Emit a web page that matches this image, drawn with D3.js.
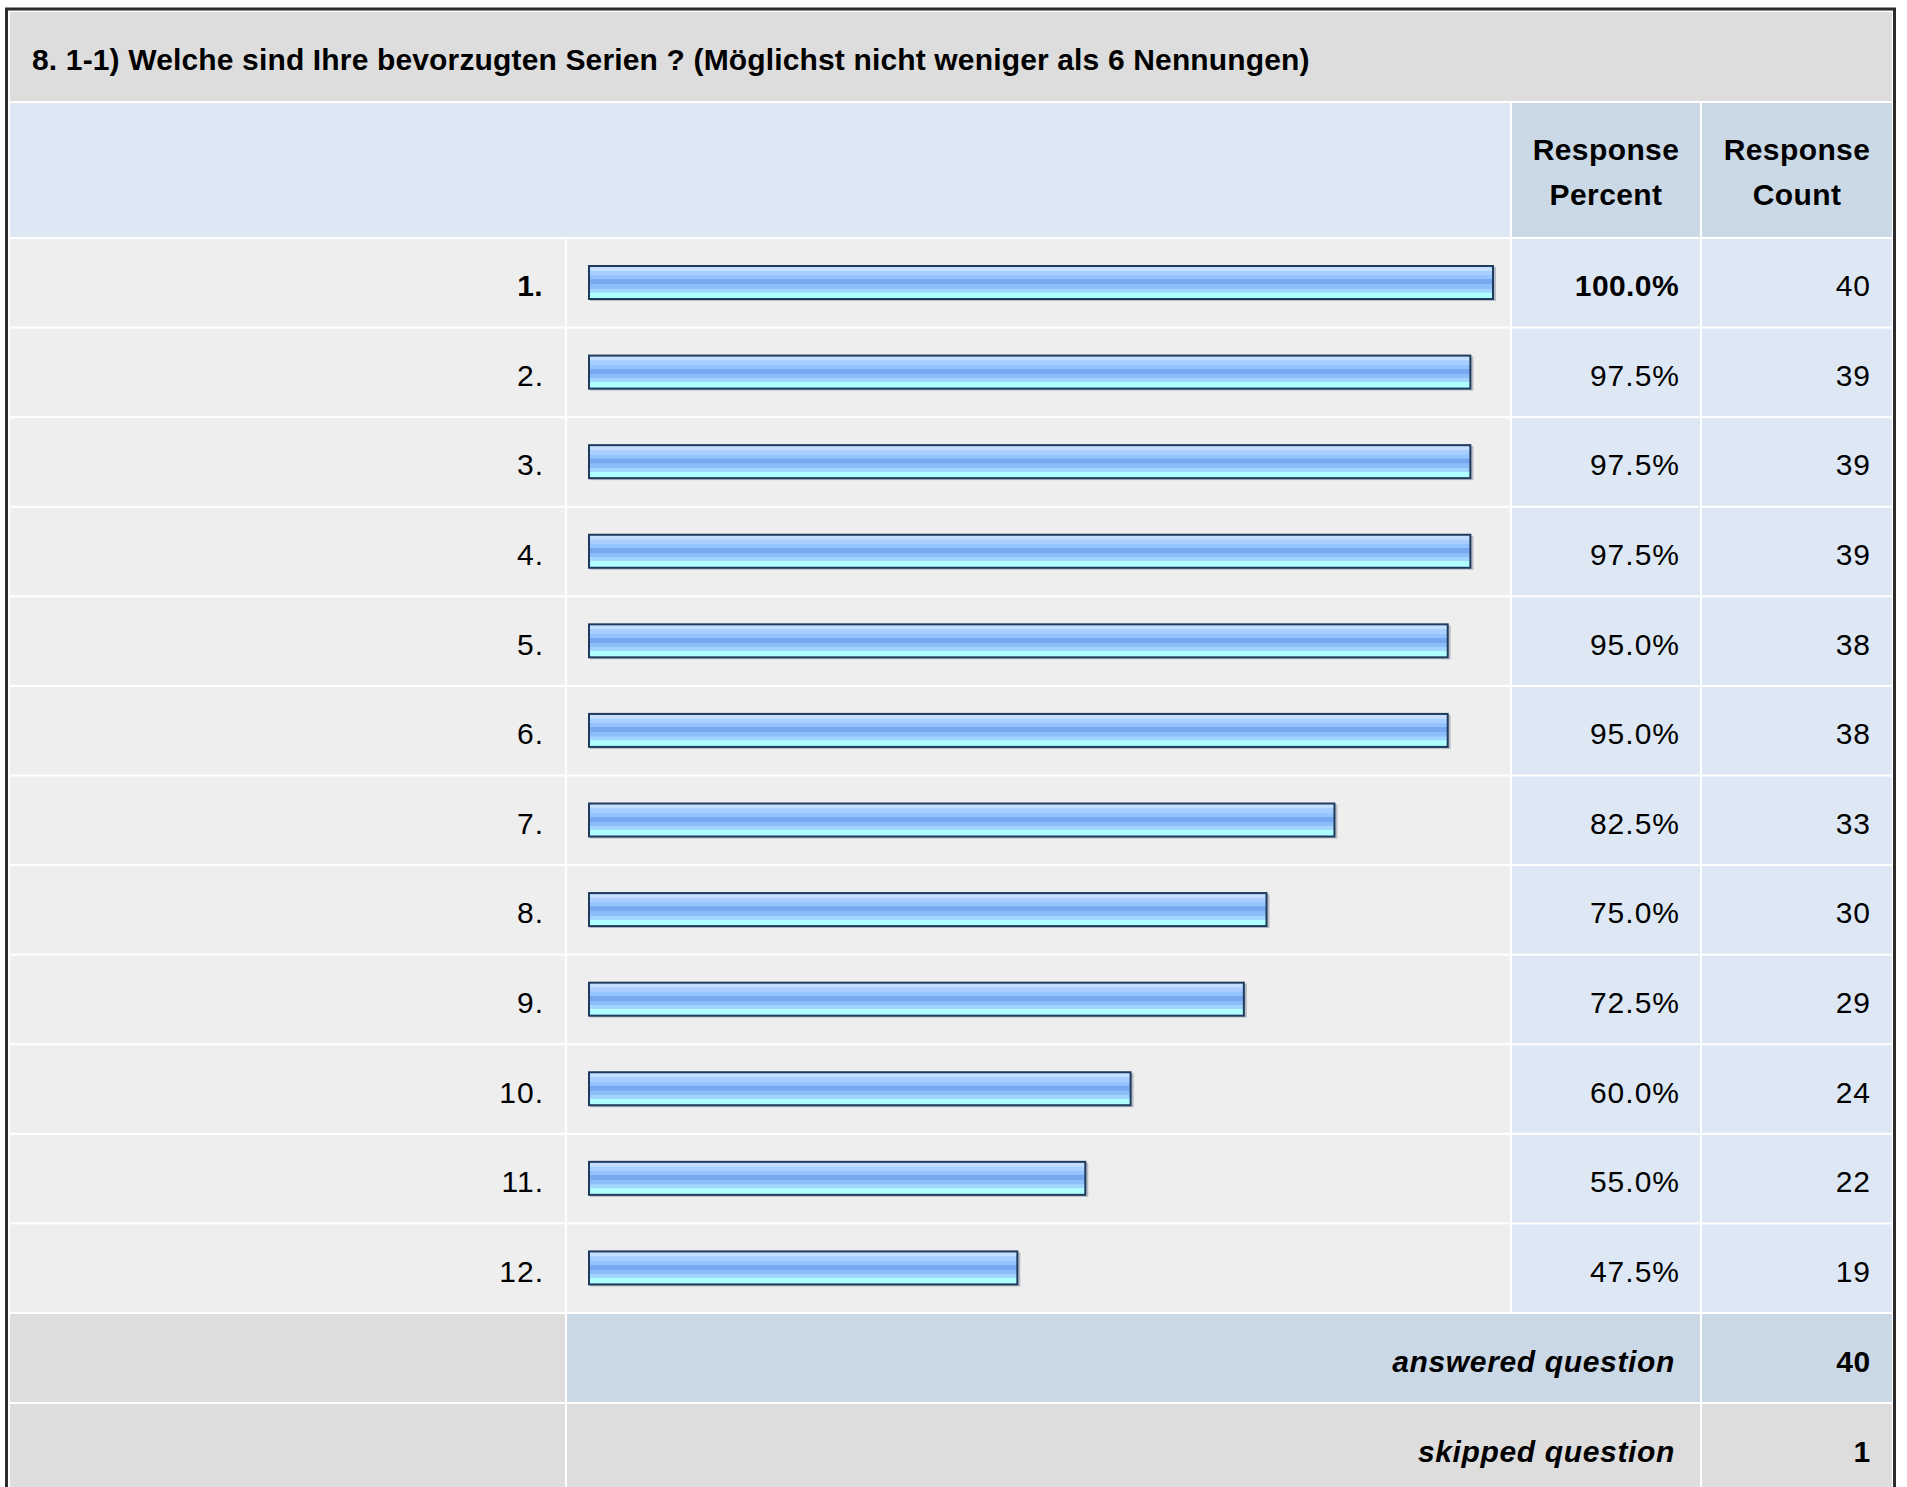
<!DOCTYPE html>
<html>
<head>
<meta charset="utf-8">
<script src="https://cdn.jsdelivr.net/npm/d3@7"></script>
<style>
  body { margin: 0; background: #fff; }
  text { font-family: "Liberation Sans", Arial, sans-serif; }
</style>
</head>
<body>
<div id="chart"></div>
<script>
// data
const title = "8. 1-1) Welche sind Ihre bevorzugten Serien ? (Möglichst nicht weniger als 6 Nennungen)";
const labels = ["1.", "2.", "3.", "4.", "5.", "6.", "7.", "8.", "9.", "10.", "11.", "12."];
const percents = [100.0, 97.5, 97.5, 97.5, 95.0, 95.0, 82.5, 75.0, 72.5, 60.0, 55.0, 47.5];
const counts = [40, 39, 39, 39, 38, 38, 33, 30, 29, 24, 22, 19];
const headerPercent = ["Response", "Percent"];
const headerCount = ["Response", "Count"];
const summaryLabels = ["answered question", "skipped question"];
const summaryValues = [40, 1];

const width = 1907,
  height = 1487;

const svg = d3
  .select("#chart")
  .append("svg")
  .attr("width", width)
  .attr("height", height);

// column edges
const colLabel = [10, 565],
  colBar = [567, 1510],
  colPct = [1512, 1700],
  colCnt = [1702, 1892];

const rows = labels.map((d, i) => ({ label: d, pct: percents[i], count: counts[i] }));
const maxPct = d3.max(percents);

const y = d3.scaleBand().domain(labels).range([238, 1313]);
const x = d3.scaleLinear().domain([0, 100]).range([588, 1494]);

// gradient for the bars
const grad = svg
  .append("defs")
  .append("linearGradient")
  .attr("id", "barGrad")
  .attr("x1", 0)
  .attr("y1", 0)
  .attr("x2", 0)
  .attr("y2", 1);
[
  [0, "#c4deff"],
  [0.14, "#c4deff"],
  [0.15, "#a8cfff"],
  [0.28, "#a8cfff"],
  [0.29, "#94c3fd"],
  [0.4, "#94c3fd"],
  [0.41, "#78a8f0"],
  [0.55, "#78a8f0"],
  [0.56, "#8cbdf9"],
  [0.68, "#8cbdf9"],
  [0.69, "#a2d6ff"],
  [0.8, "#a2d6ff"],
  [0.81, "#b0ffff"],
  [1, "#b0ffff"]
].forEach(([o, c]) => grad.append("stop").attr("offset", o).attr("stop-color", c));

// outer frame
svg
  .append("rect")
  .attr("x", 6.5)
  .attr("y", 9)
  .attr("width", 1888)
  .attr("height", 1500)
  .attr("fill", "#fff")
  .attr("stroke", "#2b2b2b")
  .attr("stroke-width", 3);

// title band
svg
  .append("rect")
  .attr("x", colLabel[0])
  .attr("y", 12)
  .attr("width", colCnt[1] - colLabel[0])
  .attr("height", 89)
  .attr("fill", "#dddddd");

svg
  .append("text")
  .attr("x", 32)
  .attr("y", 70)
  .attr("font-size", 30)
  .attr("font-weight", "bold")
  .attr("letter-spacing", 0.15)
  .attr("fill", "#000")
  .text(title);

// header row
const hy = 103,
  hh = 134;
svg
  .append("rect")
  .attr("x", colLabel[0])
  .attr("y", hy)
  .attr("width", colBar[1] - colLabel[0])
  .attr("height", hh)
  .attr("fill", "#dee8f5");
[
  [colPct, headerPercent],
  [colCnt, headerCount]
].forEach(([col, lines]) => {
  svg
    .append("rect")
    .attr("x", col[0])
    .attr("y", hy)
    .attr("width", col[1] - col[0])
    .attr("height", hh)
    .attr("fill", "#cbd8e6");
  svg
    .append("text")
    .attr("text-anchor", "middle")
    .attr("font-size", 30)
    .attr("font-weight", "bold")
    .attr("letter-spacing", 0.4)
    .selectAll("tspan")
    .data(lines)
    .join("tspan")
    .attr("x", (col[0] + col[1]) / 2)
    .attr("y", (d, i) => 160 + i * 45)
    .text((d) => d);
});

// data rows
const g = svg
  .selectAll("g.row")
  .data(rows)
  .join("g")
  .attr("class", "row")
  .attr("transform", (d) => `translate(0,${y(d.label)})`);

const rh = y.bandwidth() - 2;

g.append("rect")
  .attr("x", colLabel[0])
  .attr("y", 1)
  .attr("width", colLabel[1] - colLabel[0])
  .attr("height", rh)
  .attr("fill", "#eeeeee");
g.append("rect")
  .attr("x", colBar[0])
  .attr("y", 1)
  .attr("width", colBar[1] - colBar[0])
  .attr("height", rh)
  .attr("fill", "#eeeeee");
g.append("rect")
  .attr("x", colPct[0])
  .attr("y", 1)
  .attr("width", colPct[1] - colPct[0])
  .attr("height", rh)
  .attr("fill", "#dee8f5");
g.append("rect")
  .attr("x", colCnt[0])
  .attr("y", 1)
  .attr("width", colCnt[1] - colCnt[0])
  .attr("height", rh)
  .attr("fill", "#dee8f5");

// bar shadow + bar
g.append("rect")
  .attr("x", x(0) + 2)
  .attr("y", 29)
  .attr("width", (d) => x(d.pct) - x(0))
  .attr("height", 34)
  .attr("fill", "#b8bcc4");
g.append("rect")
  .attr("x", x(0) + 1)
  .attr("y", 28)
  .attr("width", (d) => x(d.pct) - x(0) - 2)
  .attr("height", 33)
  .attr("fill", "url(#barGrad)")
  .attr("stroke", "#1e3a5c")
  .attr("stroke-width", 2);

const mid = y.bandwidth() / 2 + 13.5;
const isMax = (d) => d.pct === maxPct;
g.append("text")
  .attr("x", (d) => (isMax(d) ? 543 : 544))
  .attr("y", mid)
  .attr("text-anchor", "end")
  .attr("font-size", 30)
  .attr("letter-spacing", (d) => (isMax(d) ? 0.4 : 1))
  .attr("font-weight", (d) => (isMax(d) ? "bold" : "normal"))
  .text((d) => d.label);
g.append("text")
  .attr("x", (d) => (isMax(d) ? 1679 : 1680))
  .attr("y", mid)
  .attr("text-anchor", "end")
  .attr("font-size", 30)
  .attr("letter-spacing", (d) => (isMax(d) ? 0.4 : 1))
  .attr("font-weight", (d) => (isMax(d) ? "bold" : "normal"))
  .text((d) => d3.format(".1f")(d.pct) + "%");
g.append("text")
  .attr("x", 1871)
  .attr("y", mid)
  .attr("text-anchor", "end")
  .attr("font-size", 30)
  .attr("letter-spacing", 1)
  .text((d) => d.count);

// summary rows
const sy = d3.scaleBand().domain(summaryLabels).range([1313, 1493]);
const sg = svg
  .selectAll("g.sum")
  .data(summaryLabels)
  .join("g")
  .attr("class", "sum")
  .attr("transform", (d) => `translate(0,${sy(d)})`);
const sh = sy.bandwidth() - 2;
sg.append("rect")
  .attr("x", colLabel[0])
  .attr("y", 1)
  .attr("width", colLabel[1] - colLabel[0])
  .attr("height", sh)
  .attr("fill", "#dddddd");
sg.append("rect")
  .attr("x", colBar[0])
  .attr("y", 1)
  .attr("width", colPct[1] - colBar[0])
  .attr("height", sh)
  .attr("fill", (d, i) => (i === 0 ? "#cbd8e6" : "#dddddd"));
sg.append("rect")
  .attr("x", colCnt[0])
  .attr("y", 1)
  .attr("width", colCnt[1] - colCnt[0])
  .attr("height", sh)
  .attr("fill", (d, i) => (i === 0 ? "#cbd8e6" : "#dddddd"));
sg.append("text")
  .attr("x", 1675)
  .attr("y", sy.bandwidth() / 2 + 13.5)
  .attr("text-anchor", "end")
  .attr("font-size", 30)
  .attr("font-weight", "bold")
  .attr("font-style", "italic")
  .attr("letter-spacing", 0.65)
  .text((d) => d);
sg.append("text")
  .attr("x", 1870.5)
  .attr("y", sy.bandwidth() / 2 + 13.5)
  .attr("text-anchor", "end")
  .attr("font-size", 30)
  .attr("font-weight", "bold")
  .attr("letter-spacing", 0.4)
  .text((d, i) => summaryValues[i]);
</script>
</body>
</html>
